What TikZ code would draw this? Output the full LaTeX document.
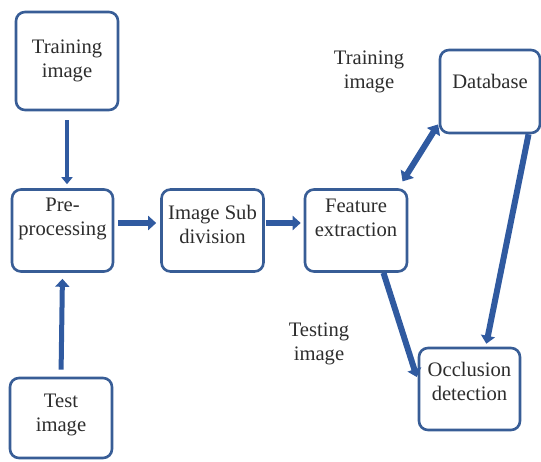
\documentclass[tikz,border=0pt]{standalone}
\usepackage{fontspec}
\setmainfont{Liberation Serif}
\usetikzlibrary{arrows.meta}
\definecolor{boxblue}{RGB}{56,93,150}
\definecolor{arrowblue}{RGB}{48,90,160}
\definecolor{txtgray}{RGB}{45,45,45}
\begin{document}
\begin{tikzpicture}[x=1pt,y=-1pt,
	box/.style={draw=boxblue,line width=2.6pt,rounded corners=9pt,fill=white,align=center,text=txtgray,inner sep=0pt,minimum width=101pt,minimum height=82pt,font=\fontsize{20.6}{24}\selectfont},
	lbl/.style={align=center,text=txtgray,font=\fontsize{20.6}{24}\selectfont},
	link/.style={draw=arrowblue,line width=6pt,-{Triangle[length=8pt,width=14pt]}}]
	\useasboundingbox (0,0) rectangle (541,462);
	% boxes
	\node[box,minimum width=102pt,minimum height=98pt] (train) at (67,61) {Training\\image};
	\node[box,text depth=28pt] (pre) at (62.5,230.5) {Pre-\\processing};
	\node[box,minimum width=102pt,text depth=12pt] (sub) at (212.5,230.5) {Image Sub\\division};
	\node[box,minimum width=102pt,text depth=26pt] (feat) at (356,230.5) {Feature\\extraction};
	\node[box,minimum width=100pt,minimum height=83pt,text depth=20.5pt] (db) at (490,91.5) {Database};
	\node[box,text depth=16pt] (occ) at (469.5,389) {Occlusion\\detection};
	\node[box,minimum width=102pt,minimum height=80pt,text depth=10pt] (test) at (61,418) {Test\\image};
	% free labels
	\node[lbl] (trainlbl) at (369,72) {Training\\image};
	\node[lbl] (testlbl) at (319,344) {Testing\\image};
	% arrows
	\draw[link,line width=4pt,-{Triangle[length=7pt,width=11pt]},shorten <=9pt,shorten >=4pt] (train.south) -- (train.south |- pre.north);
	\draw[link,line width=5pt,shorten <=7pt,shorten >=6pt] (test.north) -- (pre.south);
	\draw[link,shorten <=4pt,shorten >=4pt] ([yshift=7.5pt]pre.east) -- ([yshift=7.5pt]sub.west);
	\draw[link,shorten <=1pt,shorten >=3pt] ([yshift=7.5pt]sub.east) -- ([yshift=7.5pt]feat.west);
	\draw[link,{Triangle[length=9pt,width=15pt]}-{Triangle[length=9pt,width=15pt]},line width=6pt,shorten <=8pt,shorten >=1pt] (feat.45) -- (db.212);
	\draw[link,shorten >=3pt] (feat.-57.6) -- (occ.170);
	\draw[link,shorten >=3pt] (db.-48.3) -- (occ.69.3);
\end{tikzpicture}
\end{document}
